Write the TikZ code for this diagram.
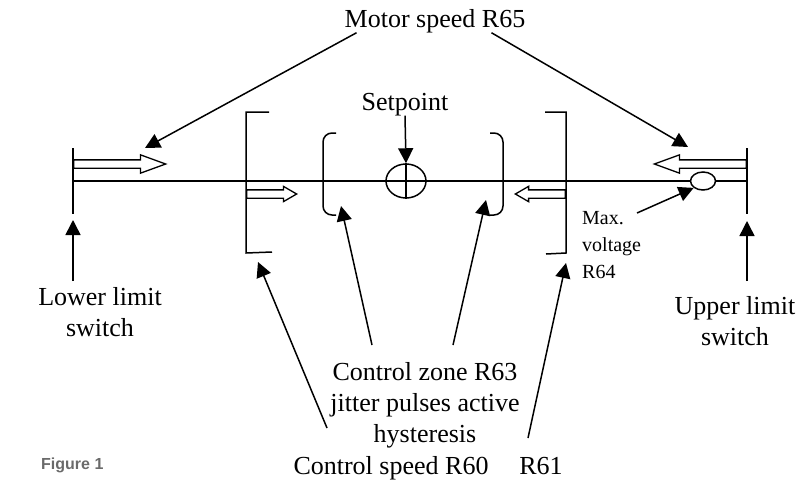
\documentclass[tikz,border=0pt]{standalone}
\usepackage{fontspec}
\setmainfont{Liberation Serif}
\newfontfamily\capfont{Liberation Sans}
\usepackage{tikz}
\usetikzlibrary{positioning,arrows.meta,shapes.arrows,shapes.geometric,calc}
\definecolor{ink}{HTML}{000000}
\definecolor{capgrey}{HTML}{6A6A6A}
\tikzset{
  ln/.style={draw=ink, line width=1.5pt},
  ar/.style={ln, -{Triangle[length=15pt, width=15pt]}},
  lbl/.style={font=\fontsize{26}{31}\selectfont, align=center, inner sep=0pt},
  note/.style={font=\fontsize{20}{27}\selectfont, align=left, inner sep=0pt},
  fig/.style={font=\capfont\bfseries\fontsize{16}{19}\selectfont, text=capgrey, inner sep=0pt},
  push/.style={single arrow, draw=ink, line width=1.3pt, inner xsep=0pt, inner ysep=3.5pt,
               single arrow head extend=5pt, single arrow tip angle=40, minimum height=92pt},
  nudge/.style={push, single arrow head extend=3.5pt, single arrow tip angle=60, minimum height=50pt},
  ring/.style={ellipse, ln, inner sep=0pt},
}

\begin{document}
\begin{tikzpicture}[x=1pt, y=-1pt]
\useasboundingbox (0,0) rectangle (800,482);

% --- travel line, limit switches ---
\coordinate (lowtop) at (73,148);
\coordinate (lowbot) at (73,214);
\coordinate (uptop) at (747,148);
\coordinate (upbot) at (747,214);
\draw[ln] (lowtop) -- (lowbot);
\draw[ln] (uptop) -- (upbot);
\node[ring, minimum width=25pt, minimum height=18pt] (maxc) at (703,181) {};
\draw[ln] (lowtop |- maxc) -- (maxc.west);
\draw[ln] (maxc.east) -- (uptop |- maxc);
\node[push, anchor=tail] (lowpush) at (73,164) {};
\node[push, shape border rotate=180, anchor=tail] (uppush) at (747,164) {};

% --- setpoint ---
\node[ring, minimum width=40pt, minimum height=34pt] (setc) at (406,181) {};
\draw[ln] (setc.north) -- (setc.south);

% --- brackets and zone ---
\draw[ln] (269,112) -- (246,112) -- (246,253) coordinate (lbb) -- (272,252);
\draw[ln] (545,112) -- (566,112) -- (566,253) coordinate (rbb) -- (546,254);
\draw[ln, rounded corners=9pt] (336,133) -- (323,133) -- (323,215) coordinate (lpb) -- (336,215);
\draw[ln, rounded corners=9pt] (490,133) -- (503,133) -- (503,215) coordinate (rpb) -- (490,215);
\node[nudge, anchor=tail] (lownudge) at (246,194) {};
\node[nudge, shape border rotate=180, anchor=tail] (upnudge) at (566,194) {};

% --- labels ---
\node[lbl, anchor=base] (motor) at (435,27) {Motor speed R65};
\node[lbl, anchor=base] (setp) at (405,110) {Setpoint};
\node[lbl, anchor=north] (lowlbl) at (100,287) {Lower limit\\switch};
\node[lbl, anchor=north] (uplbl) at (735,296) {Upper limit\\switch};
\node[note, anchor=north west] (maxlbl) at (582,211) {Max.\\voltage\\R64};
\node[lbl, anchor=north] (zone) at (425,362) {Control zone R63\\jitter pulses active\\hysteresis};
\node[lbl, anchor=base] (speed) at (391,474) {Control speed R60};
\node[lbl, anchor=base] (hyst) at (541,474) {R61};
\node[fig, anchor=base west] (figno) at (41,469) {Figure 1};

% --- pointers ---
\coordinate (lowaim) at (145,148);
\coordinate (upaim) at (688,147);
\coordinate (speedtail) at (327,428);
\coordinate (hysttail) at (528,438);
\coordinate (lztail) at (372,345);
\coordinate (rztail) at (453,345);
\draw[ar] ([xshift=12pt]motor.south west) -- (lowaim);
\draw[ar] ([xshift=-34pt]motor.south east) -- (upaim);
\draw[ar] (setp.south) -- (setc.north);
\draw[ar] ($(lowbot |- lowlbl.north)+(0,-6)$) -- ($(lowbot)+(0,6)$);
\draw[ar] ($(upbot |- uplbl.north)+(0,-15)$) -- ($(upbot)+(0,7)$);
\draw[ar] ($(maxlbl.north west)+(55,2)$) -- (maxc.south west);
\draw[ar] (speedtail) -- ($(lbb)+(12,9)$);
\draw[ar] (hysttail) -- ($(rbb)+(0,10)$);
\draw[ar] (lztail) -- ($(lpb)+(18,-9)$);
\draw[ar] (rztail) -- ($(rpb)+(-17,-15)$);

\end{tikzpicture}
\end{document}
